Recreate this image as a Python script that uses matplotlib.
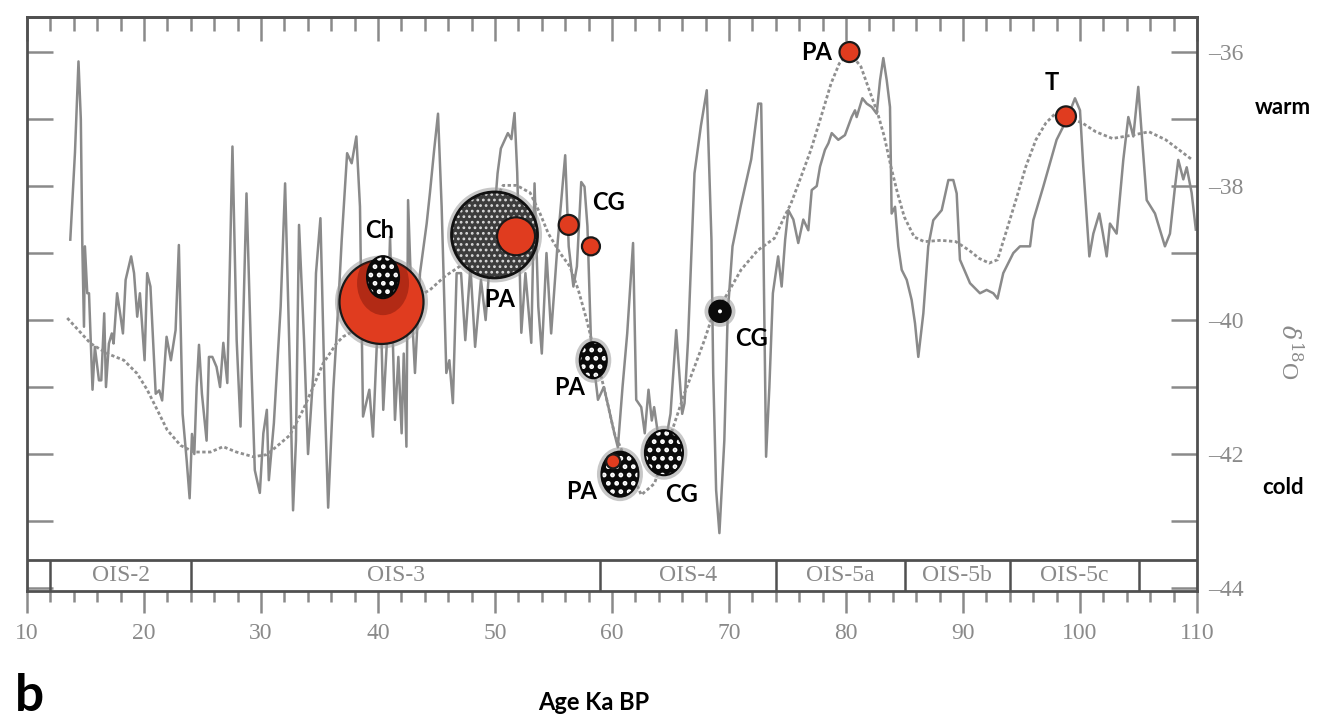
import matplotlib.pyplot as plt
from matplotlib.patches import Ellipse

# raw d18O record (grey line): age (ka BP), d18O (permil)
age_raw = [13.7, 14.1, 14.4, 14.6, 14.73, 14.87, 14.95, 15.15, 15.3, 15.6, 15.8, 16.15, 16.35, 16.6,
           16.75, 17.0, 17.25, 17.4, 17.7, 18.0, 18.2, 18.43, 18.9, 19.15, 19.42, 19.65, 20.05, 20.27,
           20.55, 21.0, 21.3, 21.55, 21.93, 22.3, 22.7, 22.98, 23.3, 23.65, 23.9, 24.1, 24.3, 24.5,
           24.7, 24.95, 25.35, 25.55, 25.84, 26.2, 26.5, 26.78, 27.12, 27.56, 27.92, 28.25, 28.76,
           29.2, 29.47, 29.9, 30.2, 30.5, 30.67, 31.1, 31.68, 32.06, 32.48, 32.74, 32.99, 33.25,
           33.68, 34.02, 34.47, 34.7, 35.08, 35.47, 35.74, 36.18, 36.6, 36.9, 37.36, 37.75, 38.15,
           38.46, 38.72, 39.26, 39.57, 39.89, 40.2, 40.45, 40.8, 41.03, 41.45, 41.74, 42.02, 42.2,
           42.43, 42.57, 42.9, 43.16, 43.59, 44.16, 44.44, 44.8, 45.13, 45.44, 45.84, 46.1, 46.4,
           46.72, 47.1, 47.46, 47.9, 48.3, 48.8, 49.2, 49.6, 50.0, 50.22, 50.5, 51.1, 51.4, 51.67,
           51.9, 52.25, 52.6, 53.1, 53.38, 53.7, 54.0, 54.4, 54.8, 55.37, 56.0, 56.3, 56.7, 57.0,
           57.37, 57.65, 57.9, 58.2, 58.8, 59.3, 59.7, 60.2, 60.5, 60.9, 61.3, 61.8, 62.07, 62.5,
           62.8, 63.12, 63.4, 63.6, 63.92, 64.5, 65.0, 65.49, 65.8, 66.0, 66.2, 66.5, 67.05, 67.6,
           68.1, 68.5, 68.65, 68.9, 69.18, 69.6, 69.89, 70.3, 71.0, 71.9, 72.5, 72.75, 72.9, 73.17,
           73.45, 73.75, 74.2, 74.5, 74.8, 75.07, 75.5, 75.92, 76.35, 76.78, 77.07, 77.5, 77.78,
           78.2, 78.5, 78.78, 79.34, 79.91, 80.48, 80.77, 80.91, 81.4, 81.77, 82.2, 82.62, 82.91,
           83.19, 83.48, 83.76, 83.9, 84.19, 84.47, 84.76, 85.19, 85.61, 85.9, 86.18, 86.61, 87.03,
           87.46, 88.18, 88.75, 89.17, 89.46, 89.74, 90.6, 91.45, 92.02, 92.59, 92.95, 93.44, 94.3,
           94.87, 95.73, 96.01, 96.86, 98.0, 98.86, 99.57, 100.0, 100.28, 100.8, 101.14, 101.65,
           101.95, 102.28, 102.56, 103.13, 103.7, 104.13, 104.56, 104.98, 105.27, 105.7, 106.41,
           107.26, 107.69, 108.12, 108.4, 108.83, 109.12, 109.54, 109.9]
d18o_raw = [-38.8, -37.5, -36.14, -37.0, -38.9, -40.1, -38.9, -39.6, -39.6, -41.04, -40.4, -40.9, -40.9,
            -39.9, -41.0, -40.35, -40.2, -40.35, -39.6, -39.95, -40.2, -39.4, -39.05, -39.3, -39.95,
            -39.6, -40.6, -39.3, -39.5, -41.1, -41.05, -41.2, -40.25, -40.6, -40.15, -38.88, -41.4,
            -42.1, -42.66, -41.7, -42.0, -41.0, -40.37, -41.1, -41.8, -40.55, -40.55, -40.7, -41.0,
            -40.34, -40.94, -37.41, -40.3, -41.59, -38.11, -40.8, -42.24, -42.58, -41.69, -41.34,
            -42.39, -41.54, -39.8, -37.96, -40.8, -42.84, -41.79, -38.58, -40.3, -42.0, -40.8, -39.3,
            -38.48, -41.29, -42.8, -41.04, -39.8, -38.8, -37.51, -37.66, -37.26, -38.31, -41.44,
            -41.04, -41.74, -40.4, -39.6, -41.34, -40.2, -38.76, -41.49, -40.55, -41.69, -40.5,
            -41.89, -38.21, -39.9, -40.79, -39.3, -38.56, -38.1, -37.46, -36.92, -38.31, -40.79,
            -40.6, -41.24, -39.3, -39.3, -40.3, -39.2, -40.4, -39.4, -40.0, -39.0, -38.3, -37.81,
            -37.44, -37.21, -37.3, -36.91, -37.8, -40.19, -39.3, -40.34, -37.96, -39.8, -40.5, -39.0,
            -40.2, -38.81, -37.54, -38.9, -39.5, -39.2, -37.94, -38.01, -38.6, -40.3, -41.19, -41.0,
            -41.3, -41.69, -41.9, -41.0, -40.2, -38.85, -41.19, -41.3, -41.69, -41.04, -41.5, -41.3,
            -41.69, -41.9, -41.4, -40.15, -40.9, -41.4, -41.24, -40.3, -37.81, -37.1, -36.57, -38.8,
            -40.8, -42.54, -43.18, -41.8, -39.9, -38.9, -38.3, -37.6, -36.77, -36.77, -38.3, -42.04,
            -41.0, -39.6, -39.05, -39.5, -38.8, -38.36, -38.5, -38.85, -38.5, -38.66, -38.06, -38.0,
            -37.71, -37.46, -37.36, -37.21, -37.31, -37.24, -36.97, -36.87, -36.97, -36.69, -36.77,
            -36.82, -36.92, -36.42, -36.09, -36.42, -36.82, -38.41, -38.31, -38.9, -39.25, -39.4,
            -39.7, -40.05, -40.55, -39.9, -38.9, -38.51, -38.36, -37.91, -37.91, -38.11, -39.1,
            -39.45, -39.6, -39.55, -39.6, -39.68, -39.3, -39.0, -38.9, -38.9, -38.51, -38.01, -37.31,
            -37.01, -36.69, -36.87, -37.71, -39.05, -38.71, -38.41, -38.7, -39.05, -38.56, -38.71,
            -37.61, -36.97, -37.26, -36.52, -37.21, -38.21, -38.41, -38.9, -38.71, -38.01, -37.61,
            -37.9, -37.72, -38.1, -38.65]

# smoothed record (dotted line)
age_smooth = [13.44, 15.44, 16.86, 18.28, 19.42, 20.27, 21.13, 21.98, 23.12, 24.26, 25.68, 26.76, 27.9,
              29.33, 30.47, 31.32, 32.46, 33.6, 34.45, 35.3, 36.45, 37.0, 44.44, 45.7, 46.98, 50.7,
              51.85, 53.0, 53.85, 54.56, 55.56, 56.4, 57.12, 57.84, 58.4, 59.36, 60.2, 62.5, 63.63,
              66.2, 67.05, 67.9, 68.47, 69.89, 71.03, 72.45, 73.88, 74.73, 75.3, 76.16, 77.0, 77.86,
              78.72, 79.43, 80.28, 81.28, 81.99, 82.7, 83.27, 83.84, 84.41, 84.98, 85.83, 86.69, 88.1,
              89.39, 90.53, 91.38, 92.24, 92.95, 93.66, 94.52, 95.37, 96.23, 97.08, 97.93, 98.79,
              100.21, 101.35, 102.77, 104.48, 105.9, 107.33, 108.47, 109.6]
d18o_smooth = [-39.97, -40.35, -40.5, -40.6, -40.8, -41.04, -41.34, -41.64, -41.87, -41.97, -41.97,
               -41.89, -41.97, -42.04, -42.01, -41.89, -41.72, -41.34, -41.0, -40.65, -40.35, -40.25,
               -39.55, -39.35, -39.2, -37.99, -37.99, -38.1, -38.41, -38.71, -39.0, -39.2, -39.55,
               -40.0, -40.4, -41.04, -41.69, -42.61, -42.44, -41.09, -40.7, -40.3, -40.0, -39.6,
               -39.25, -38.96, -38.78, -38.46, -38.26, -37.86, -37.46, -36.97, -36.47, -36.17, -36.0,
               -36.22, -36.57, -36.91, -37.26, -37.71, -38.11, -38.46, -38.76, -38.83, -38.81, -38.83,
               -38.96, -39.08, -39.15, -39.1, -38.7, -38.21, -37.71, -37.31, -37.06, -36.91, -36.96,
               -37.06, -37.19, -37.29, -37.24, -37.19, -37.31, -37.46, -37.61]

# oxygen isotope stages
ois_bounds = [12, 24, 59, 74, 85, 94, 105]
ois_names = ['OIS-2', 'OIS-3', 'OIS-4', 'OIS-5a', 'OIS-5b', 'OIS-5c']

x_ticks = [10, 20, 30, 40, 50, 60, 70, 80, 90, 100, 110]
y_ticks = [-36, -38, -40, -42, -44]
y_tick_labels = ['\u201336', '\u201338', '\u201340', '\u201342', '\u201344']

# sites placed on the curve
red_age = [40.3, 51.8, 56.3, 58.2, 60.1, 80.3, 98.8]
red_d18o = [-39.73, -38.75, -38.58, -38.9, -42.11, -36.0, -36.96]
dot_age = [40.43, 58.4, 60.68, 64.44]
dot_d18o = [-39.36, -40.6, -42.3, -41.98]
grey_age = [49.96]
grey_d18o = [-38.73]
black_age = [69.23]
black_d18o = [-39.87]

site_labels = ['Ch', 'PA', 'CG', 'PA', 'PA', 'CG', 'CG', 'PA', 'T']
label_xy = [(40.17, -38.67), (50.43, -39.69), (59.68, -38.25), (56.41, -41.0), (57.41, -42.56),
            (65.96, -42.61), (71.94, -40.27), (77.5, -36.0), (97.58, -36.46)]

# marker sizes in pixels (style)
red_w = [84, 38, 20, 18, 14, 20, 20]
red_z = [4, 6, 6, 6, 6, 6, 6]
dot_w = [32, 27, 37, 38]
dot_h = [42, 36, 45, 45]

W, H = 1322, 721
fig = plt.figure(figsize=(W / 100, H / 100), dpi=100)
left, bottom, width, height = 27 / W, (H - 591.4) / H, 1170 / W, 574.2 / H
ax = fig.add_axes([left, bottom, width, height])
x0, x1, y0, y1 = 10, 110, -44.05, -35.48
ax.set_xlim(x0, x1)
ax.set_ylim(y0, y1)
ppx = W * width / (x1 - x0)
ppy = H * height / (y1 - y0)

grey = '#8a8a8a'
frame = '#505050'
red = '#e03c1f'

ax.plot(age_raw, d18o_raw, color=grey, lw=1.8, zorder=2)
ax.plot(age_smooth, d18o_smooth, color='#8f8f8f', lw=2.0, ls=(0, (1.2, 0.9)), zorder=2)


def blob(x, y, w, h, z, **kw):
    e = Ellipse((x, y), w / ppx, h / ppy, zorder=z, **kw)
    ax.add_patch(e)
    return e


def halo(x, y, w, h, z):
    blob(x, y, w + 9, h + 9, z - 0.5, facecolor='#9a9a9a', edgecolor='none', alpha=0.55)


# red markers
red_patches = []
for x, y, w, z in zip(red_age, red_d18o, red_w, red_z):
    if z == 4:
        halo(x, y, w, w, z)
    red_patches.append(blob(x, y, w, w, z, facecolor=red, edgecolor='#1a1a1a', lw=1.6))

# grey dotted circle
for x, y in zip(grey_age, grey_d18o):
    halo(x, y, 86, 86, 4)
    e = blob(x, y, 86, 86, 4, facecolor='#3c3c3c', edgecolor='#d8d8d8', hatch='...', lw=0)
    if hasattr(e, 'set_hatch_linewidth'):
        e.set_hatch_linewidth(1.2)
    blob(x, y, 86, 86, 4.2, facecolor='none', edgecolor='#111111', lw=2)

# black dotted ellipses
for i, (x, y, w, h) in enumerate(zip(dot_age, dot_d18o, dot_w, dot_h)):
    if i == 0:
        # dark shade on the large red circle, kept inside it
        sh = blob(x, y - 6 / ppy, w + 20, h + 22, 4.5, facecolor='#7a160a', edgecolor='none',
                  alpha=0.45)
        sh.set_clip_path(red_patches[0])
    else:
        halo(x, y, w, h, 5)
    e = blob(x, y, w, h, 5, facecolor='#0a0a0a', edgecolor='white', hatch='..', lw=0)
    if hasattr(e, 'set_hatch_linewidth'):
        e.set_hatch_linewidth(2.2)
    blob(x, y, w, h, 5.2, facecolor='none', edgecolor='#0a0a0a', lw=1.5)

for x, y in zip(black_age, black_d18o):
    halo(x, y, 22, 22, 5)
    blob(x, y, 22, 22, 5, facecolor='#0a0a0a', edgecolor='#0a0a0a', lw=1)
    blob(x, y, 4, 4, 5.3, facecolor='white', edgecolor='none')

lab_font = ['Lato', 'DejaVu Sans']
for s, (x, y) in zip(site_labels, label_xy):
    ax.text(x, y, s, ha='center', va='center', fontsize=17, fontweight='bold',
            family=lab_font, color='black', zorder=8)

# OIS band
band_top = -43.58
ax.axhline(band_top, color=frame, lw=2, zorder=3)
ax.vlines(ois_bounds, y0, band_top, color=frame, lw=1.8, zorder=3)
serif = ['Liberation Serif', 'DejaVu Serif']
for a, b, name in zip(ois_bounds[:-1], ois_bounds[1:], ois_names):
    ax.text((a + b) / 2, (band_top + y0) / 2, name, ha='center', va='center',
            fontsize=17, family=serif, color=grey, zorder=3)

# axes styling
for sp in ax.spines.values():
    sp.set_color(frame)
    sp.set_linewidth(2)

ax.set_xticks(x_ticks)
ax.set_xticks(range(12, 110, 2), minor=True)
ax.tick_params(axis='x', which='major', direction='out', length=16, width=1.8, color=grey,
               labelsize=17, labelcolor=grey, pad=7)
ax.tick_params(axis='x', which='minor', direction='out', length=8, width=1.8, color=grey)
for t in ax.get_xticklabels():
    t.set_family(serif)

top = ax.secondary_xaxis('top')
top.set_xticks(x_ticks)
top.set_xticks(range(12, 110, 2), minor=True)
top.tick_params(axis='x', which='major', direction='in', length=17, width=1.8, color=grey,
                labeltop=False)
top.tick_params(axis='x', which='minor', direction='in', length=10, width=1.8, color=grey)
top.spines['top'].set_color(frame)
top.spines['top'].set_linewidth(2)

ax.set_yticks(y_ticks, labels=y_tick_labels)
ax.set_yticks([-37, -39, -41, -43], minor=True)
ax.tick_params(axis='y', which='both', left=True, right=True, labelleft=False, labelright=True,
               direction='in', length=19, width=1.8, color=grey, labelsize=17,
               labelcolor=grey, pad=8)
for t in ax.get_yticklabels():
    t.set_family(serif)

plt.rcParams['mathtext.fontset'] = 'dejavuserif'
fig.text(1290 / W, 1 - 352 / H, r'$\delta^{18}$O', rotation=-90, ha='center', va='center',
         fontsize=17, color=grey, family=serif)
fig.text(1283 / W, 1 - 107 / H, 'warm', ha='center', va='center', fontsize=16,
         fontweight='bold', family=lab_font)
fig.text(1283 / W, 1 - 487 / H, 'cold', ha='center', va='center', fontsize=16,
         fontweight='bold', family=lab_font)
fig.text(594 / W, 1 - 702 / H, 'Age Ka BP', ha='center', va='center', fontsize=17,
         fontweight='bold', family=lab_font)
fig.text(29 / W, 0.002, 'b', ha='center', va='bottom', fontsize=37,
         fontweight='bold', family=lab_font)

fig.savefig('out.png', dpi=100)
